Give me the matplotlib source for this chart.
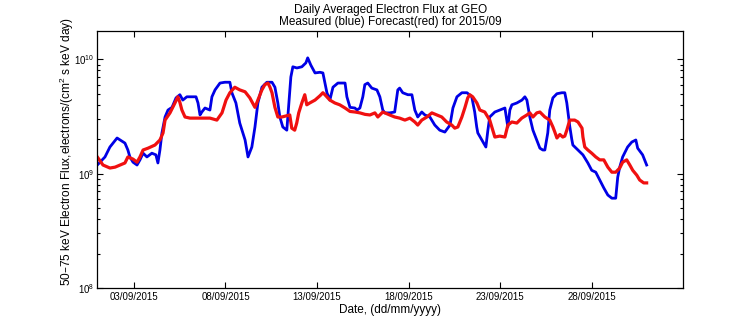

# Daily averaged 50-75 keV electron flux at GEO, September 2015:
# measured flux (blue) against the forecast (red).

# Dependencies
import numpy as np
import pandas as pd
import matplotlib
matplotlib.use('Agg')
import matplotlib.pyplot as plt
import matplotlib.dates as mdates
from matplotlib.ticker import LogLocator, NullFormatter

# ***Data***
# time as fractional day of September 2015, flux in units of 1e9
day_meas = [
    1.00, 1.42, 1.69, 2.08, 2.51, 2.67, 2.78, 2.95, 3.17, 3.33, 3.50, 3.71,
    3.98, 4.20, 4.31, 4.42, 4.53, 4.70, 4.86, 5.08, 5.30, 5.51, 5.67, 5.89,
    6.39, 6.50, 6.61, 6.71, 6.88, 7.15, 7.26, 7.43, 7.70, 7.97, 8.24, 8.35,
    8.57, 8.78, 9.07, 9.23, 9.44, 9.61, 9.77, 9.99, 10.26, 10.54, 10.70,
    10.86, 10.97, 11.13, 11.35, 11.48, 11.57, 11.68, 11.90, 12.17, 12.39,
    12.49, 12.66, 12.89, 13.16, 13.32, 13.43, 13.54, 13.70, 13.87, 14.14,
    14.53, 14.63, 14.80, 15.07, 15.18, 15.34, 15.50, 15.61, 15.77, 15.99,
    16.27, 16.43, 16.59, 16.70, 16.97, 17.24, 17.41, 17.51, 17.68, 17.96,
    18.18, 18.34, 18.50, 18.72, 18.89, 19.16, 19.43, 19.70, 19.98, 20.26,
    20.42, 20.64, 20.91, 21.19, 21.45, 21.61, 21.72, 21.78, 22.00, 22.22,
    22.33, 22.43, 22.71, 22.98, 23.26, 23.42, 23.53, 23.64, 23.91, 24.19,
    24.35, 24.46, 24.62, 24.79, 25.00, 25.17, 25.33, 25.44, 25.60, 25.71,
    25.88, 26.10, 26.37, 26.53, 26.64, 26.80, 26.91, 26.97, 27.25, 27.52,
    27.79, 28.00, 28.22, 28.44, 28.66, 28.88, 29.10, 29.31, 29.42, 29.53,
    29.69, 29.96, 30.19, 30.41, 30.51, 30.78, 31.00]
flux_meas = [
    1.19, 1.40, 1.71, 2.05, 1.85, 1.61, 1.40, 1.26, 1.19, 1.32, 1.51, 1.40,
    1.51, 1.46, 1.24, 1.61, 2.27, 3.13, 3.60, 3.80, 4.60, 4.90, 4.40, 4.70,
    4.70, 4.15, 3.26, 3.46, 3.75, 3.60, 4.70, 5.40, 6.20, 6.30, 6.30, 5.10,
    4.15, 2.77, 1.97, 1.40, 1.71, 2.56, 4.15, 5.70, 6.30, 6.30, 5.70,
    4.15, 3.13, 2.56, 2.40, 4.50, 7.00, 8.60, 8.40, 8.60, 9.30,
    10.3, 8.90, 7.60, 7.70, 7.60, 6.20, 5.10, 4.40, 5.70, 6.20,
    6.20, 4.70, 3.80, 3.75, 3.60, 3.75, 4.70, 6.00, 6.20, 5.60,
    5.40, 4.70, 3.60, 3.40, 3.40, 3.46, 5.40, 5.60, 5.10, 4.90,
    4.90, 3.60, 3.13, 3.46, 3.26, 3.13, 2.66, 2.40, 2.31, 2.66,
    3.75, 4.70, 5.10, 5.10, 4.70, 3.46, 2.56, 2.27, 1.97, 1.71,
    2.40, 3.13, 3.46, 3.60, 3.75, 2.56, 3.60, 4.00, 4.15, 4.40,
    4.70, 4.40, 3.13, 2.40, 1.97, 1.67, 1.61, 1.61, 2.27, 3.60,
    4.60, 5.00, 5.10, 5.10, 4.15, 2.60, 2.00, 1.78, 1.61, 1.46,
    1.24, 1.07, 1.03, 0.88, 0.75, 0.65, 0.61, 0.61, 0.93, 1.14,
    1.40, 1.71, 1.89, 1.97, 1.67, 1.46, 1.19]

day_fcst = [
    1.00, 1.31, 1.69, 1.97, 2.24, 2.51, 2.67, 2.95, 3.17, 3.33, 3.50, 3.77,
    4.15, 4.42, 4.59, 4.70, 4.97, 5.24, 5.40, 5.51, 5.62, 5.79, 6.06, 6.34,
    6.61, 7.15, 7.53, 7.81, 8.03, 8.24, 8.51, 8.78, 9.07, 9.33, 9.61, 9.77,
    9.99, 10.15, 10.32, 10.43, 10.54, 10.70, 10.86, 11.08, 11.51, 11.62,
    11.78, 11.89, 12.00, 12.17, 12.33, 12.44, 12.60, 12.89, 13.16, 13.32,
    13.43, 13.70, 13.97, 14.24, 14.53, 14.80, 15.07, 15.34, 15.62, 15.89,
    16.16, 16.32, 16.59, 16.70, 16.97, 17.24, 17.51, 17.80, 18.07, 18.34,
    18.50, 18.72, 19.00, 19.27, 19.54, 19.81, 20.08, 20.36, 20.52, 20.69,
    20.91, 21.08, 21.23, 21.34, 21.50, 21.73, 21.89, 22.16, 22.43, 22.60,
    22.71, 22.98, 23.26, 23.42, 23.64, 23.91, 24.18, 24.46, 24.62, 24.79,
    25.00, 25.17, 25.44, 25.71, 25.88, 25.99, 26.10, 26.26, 26.42, 26.53,
    26.64, 26.80, 27.07, 27.25, 27.36, 27.47, 27.52, 27.62, 27.79, 28.00,
    28.22, 28.44, 28.66, 28.88, 29.10, 29.31, 29.53, 29.69, 29.91, 30.08,
    30.24, 30.46, 30.62, 30.84, 31.00]
flux_fcst = [
    1.40, 1.19, 1.12, 1.14, 1.19, 1.24, 1.40, 1.34, 1.26, 1.40, 1.61, 1.67,
    1.78, 1.97, 2.27, 2.94, 3.40, 4.15, 4.70, 4.20, 3.60, 3.13, 3.06, 3.06,
    3.06, 3.06, 2.94, 3.40, 4.40, 5.10, 5.70, 5.40, 5.20, 4.60, 3.80, 4.40,
    5.40, 6.00, 6.20, 5.70, 5.10, 3.80, 3.13, 3.13, 3.26, 2.50,
    2.40, 2.77, 3.40, 4.15, 4.90, 4.00, 4.15, 4.40, 4.80, 5.10,
    4.90, 4.40, 4.15, 4.00, 3.75, 3.50, 3.46, 3.40, 3.30, 3.26,
    3.40, 3.13, 3.46, 3.40, 3.26, 3.13, 3.06, 2.94, 3.06, 2.83,
    2.66, 2.94, 3.13, 3.40, 3.26, 3.13, 2.83, 2.66, 2.50, 2.56,
    3.13, 3.80, 4.60, 4.90, 4.70, 4.15, 3.60, 3.46, 2.94, 2.40,
    2.09, 2.13, 2.09, 2.66, 2.83, 2.77, 3.06, 3.26, 3.40, 3.13,
    3.40, 3.46, 3.13, 2.94, 2.56, 2.30, 2.05, 2.20, 2.09, 2.13,
    2.40, 2.94, 2.94, 2.83, 2.66, 2.50, 2.09, 1.71, 1.61, 1.51,
    1.40, 1.32, 1.32, 1.14, 1.03, 1.03, 1.12, 1.26, 1.32, 1.19,
    1.07, 0.97, 0.88, 0.83, 0.83]

date_ticks = ['2015-09-03', '2015-09-08', '2015-09-13',
              '2015-09-18', '2015-09-23', '2015-09-28']


# Convert day-of-month to timestamps and flux to absolute units
def to_time(days):
    return pd.Timestamp('2015-09-01') + pd.to_timedelta(np.array(days) - 1, unit='D')


t_meas = to_time(day_meas)
t_fcst = to_time(day_fcst)
f_meas = np.array(flux_meas) * 1e9
f_fcst = np.array(flux_fcst) * 1e9

# ***Visualize results***
plt.rcParams['font.family'] = ['Liberation Sans', 'DejaVu Sans']
plt.rcParams['mathtext.default'] = 'regular'

fig = plt.figure(figsize=(7.56, 3.24), dpi=100)
ax = fig.add_axes([0.1287, 0.1111, 0.7751, 0.7941])

ax.plot(t_meas, f_meas, '-', color='#0000e6', lw=2.0)
ax.plot(t_fcst, f_fcst, '-', color='#f01010', lw=2.3)

ax.set_yscale('log')
ax.set_ylim(1e8, 10**10.25)
ax.set_xlim(pd.Timestamp('2015-09-01'), pd.Timestamp('2015-10-03'))

ax.yaxis.set_major_locator(LogLocator(base=10, numticks=10))
ax.yaxis.set_minor_locator(LogLocator(base=10, subs=np.arange(2, 10), numticks=10))
ax.yaxis.set_minor_formatter(NullFormatter())

ax.set_xticks(pd.to_datetime(date_ticks))
ax.xaxis.set_major_formatter(mdates.DateFormatter('%d/%m/%Y'))

ax.tick_params(which='both', direction='in', top=True, right=True,
               labelsize=7, width=0.8)
ax.tick_params(which='major', length=4, pad=3)
ax.tick_params(which='minor', length=2.5)
ax.tick_params(axis='y', which='major', pad=2)
for s in ax.spines.values():
    s.set_linewidth(0.9)

ax.set_title('Daily Averaged Electron Flux at GEO\n'
             'Measured (blue) Forecast(red) for 2015/09',
             fontsize=8.5, linespacing=1.05, pad=4)
ax.set_xlabel('Date, (dd/mm/yyyy)', fontsize=8.5, labelpad=1)
ax.set_ylabel('50\u201375 keV Electron Flux,electrons/(cm$^2$ s keV day)',
              fontsize=8.6)
ax.yaxis.set_label_coords(-0.037, 0.53)

fig.savefig('out.png', dpi=100)
